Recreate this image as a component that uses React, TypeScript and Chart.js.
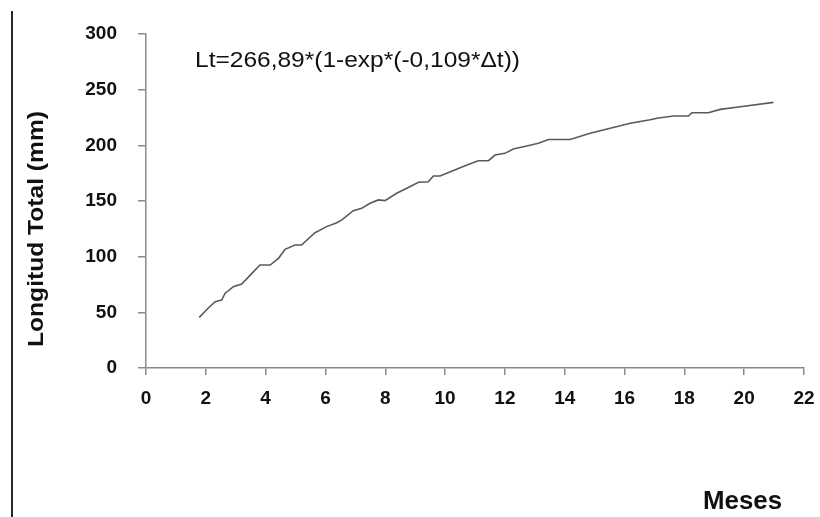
import React, { useEffect, useRef } from 'react';
import { Chart, registerables } from 'chart.js';

Chart.register(...registerables);

// Data
const months = [
  1.78, 2.05, 2.31, 2.53, 2.64, 2.92, 3.2, 3.54, 3.81, 4.15, 4.43, 4.65, 4.98, 5.2, 5.65, 6.04, 6.38,
  6.55, 6.93, 7.21, 7.49, 7.77, 7.99, 8.38, 8.72, 9.11, 9.44, 9.61, 9.83, 10.28, 10.73, 11.11, 11.45,
  11.67, 12.0, 12.28, 12.73, 13.12, 13.46, 14.18, 14.85, 15.52, 16.19, 16.86, 17.08, 17.64, 18.14,
  18.25, 18.8, 19.2, 19.87, 20.98,
];
const lengths = [
  45.5, 53.0, 59.6, 61.0, 67.0, 73.0, 75.5, 85.0, 92.5, 92.5, 98.5, 106.6, 110.5, 110.5, 121.5, 127.0, 130.5,
  133.0, 141.3, 143.4, 148.0, 151.0, 150.3, 157.0, 161.4, 166.8, 167.3, 172.5, 172.5, 177.3, 182.4, 186.2, 186.2,
  191.3, 192.8, 196.7, 199.4, 201.8, 205.3, 205.3, 210.8, 215.3, 219.8, 223.0, 224.3, 226.3, 226.3,
  229.3, 229.3, 232.3, 234.7, 238.6,
];
const xTickValues = [0, 2, 4, 6, 8, 10, 12, 14, 16, 18, 20, 22];
const yTickValues = [0, 50, 100, 150, 200, 250, 300];
const equationText = 'Lt=266,89*(1-exp*(-0,109*\u0394t))';
const yTitle = 'Longitud Total (mm)';
const xTitle = 'Meses';

const FONT = '"Liberation Sans", Arial, Helvetica, sans-serif';

const textPlugin = {
  id: 'customText',
  afterDraw(chart: any) {
    const ctx = chart.ctx as CanvasRenderingContext2D;
    ctx.save();
    // left border line
    ctx.strokeStyle = '#2a2a2a';
    ctx.lineWidth = 2;
    ctx.beginPath();
    ctx.moveTo(12, 11);
    ctx.lineTo(12, 517);
    ctx.stroke();

    // equation
    ctx.fillStyle = '#111';
    ctx.font = `22px ${FONT}`;
    ctx.textAlign = 'left';
    ctx.textBaseline = 'alphabetic';
    const w = ctx.measureText(equationText).width;
    ctx.save();
    ctx.translate(195, 66.5);
    ctx.scale(325 / w, 1);
    ctx.fillText(equationText, 0, 0);
    ctx.restore();

    // y title
    ctx.font = `bold 22px ${FONT}`;
    const wy = ctx.measureText(yTitle).width;
    ctx.save();
    ctx.translate(43, 229);
    ctx.rotate(-Math.PI / 2);
    ctx.scale(236 / wy, 1);
    ctx.textAlign = 'center';
    ctx.fillText(yTitle, 0, 0);
    ctx.restore();

    // x title
    ctx.font = `bold 26px ${FONT}`;
    ctx.textAlign = 'left';
    const wx = ctx.measureText(xTitle).width;
    ctx.save();
    ctx.translate(703, 509);
    ctx.scale(79 / wx, 1);
    ctx.fillText(xTitle, 0, 0);
    ctx.restore();

    ctx.restore();
  },
};

export default function App() {
  const ref = useRef<HTMLCanvasElement | null>(null);

  useEffect(() => {
    if (!ref.current) return;
    const points = months.map((m, i) => ({ x: m, y: lengths[i] }));
    const chart = new Chart(ref.current, {
      type: 'line',
      data: {
        datasets: [
          {
            data: points,
            borderColor: '#5a5a5a',
            borderWidth: 1.6,
            pointRadius: 0,
            tension: 0,
            fill: false,
          },
        ],
      },
      options: {
        animation: false,
        responsive: false,
        events: [],
        layout: { padding: { top: 34, right: 16, left: 0, bottom: 0 } },
        plugins: { legend: { display: false }, tooltip: { enabled: false }, title: { display: false } },
        scales: {
          x: {
            type: 'linear',
            min: 0,
            max: 22,
            afterBuildTicks: (scale: any) => {
              scale.ticks = xTickValues.map((v) => ({ value: v }));
            },
            afterFit: (scale: any) => {
              scale.height = 149;
              scale.paddingLeft = 0;
              scale.paddingRight = 0;
            },
            ticks: {
              autoSkip: false,
              maxRotation: 0,
              padding: 12,
              color: '#111',
              font: { family: FONT, size: 19, weight: 'bold' },
            },
            grid: { drawOnChartArea: false, drawTicks: true, tickLength: 7, color: '#8a8a8a', lineWidth: 1.5 },
            border: { color: '#8a8a8a', width: 1.5 },
          },
          y: {
            type: 'linear',
            min: 0,
            max: 300,
            afterBuildTicks: (scale: any) => {
              scale.ticks = yTickValues.map((v) => ({ value: v }));
            },
            afterFit: (scale: any) => {
              scale.width = 146;
              scale.paddingTop = 0;
              scale.paddingBottom = 0;
            },
            ticks: {
              padding: 21,
              color: '#111',
              font: { family: FONT, size: 19, weight: 'bold' },
            },
            grid: { drawOnChartArea: false, drawTicks: true, tickLength: 8, color: '#8a8a8a', lineWidth: 1.5 },
            border: { color: '#8a8a8a', width: 1.5 },
          },
        },
      },
      plugins: [textPlugin],
    } as any);
    return () => chart.destroy();
  }, []);

  return (
    <div style={{ position: 'absolute', left: 0, top: 0, width: 820, height: 517, background: '#fff' }}>
      <canvas ref={ref} width={820} height={517} style={{ width: 820, height: 517, display: 'block' }} />
    </div>
  );
}
